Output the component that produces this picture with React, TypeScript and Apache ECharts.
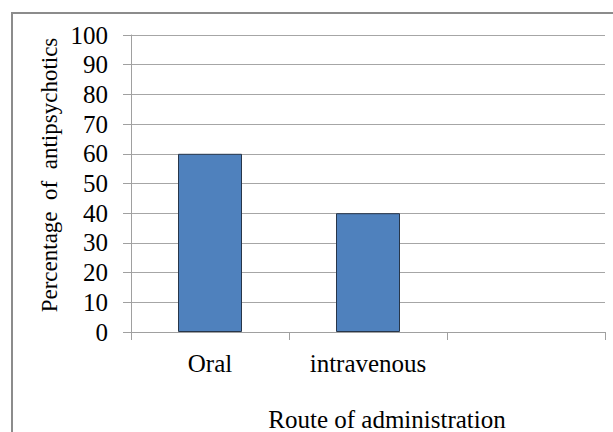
import React, { useEffect, useRef } from "react";
import * as echarts from "echarts";

const categories = ["Oral", "intravenous", ""];
const values: (number | null)[] = [60, 40, null];
const yTicks = { min: 0, max: 100, interval: 10 };
const yTitle = "Percentage  of  antipsychotics";
const xTitle = "Route of administration";

export default function App() {
  const ref = useRef<HTMLDivElement>(null);
  useEffect(() => {
    if (!ref.current) return;
    const chart = echarts.init(ref.current, undefined, { renderer: "svg" });
    const font = "'Liberation Serif', 'Times New Roman', serif";
    chart.setOption({
      animation: false,
      backgroundColor: "#ffffff",
      grid: { left: 131, right: 8, top: 35, bottom: 100, containLabel: false },
      xAxis: {
        type: "category",
        data: categories,
        boundaryGap: true,
        axisLine: { show: true, lineStyle: { color: "#a0a0a0", width: 1 } },
        axisTick: { show: true, length: 8, alignWithLabel: false, lineStyle: { color: "#a0a0a0" } },
        axisLabel: { color: "#000", fontFamily: font, fontSize: 25, margin: 19, interval: 0 },
        splitLine: { show: false },
      },
      yAxis: {
        type: "value",
        min: yTicks.min,
        max: yTicks.max,
        interval: yTicks.interval,
        axisLine: { show: true, lineStyle: { color: "#a0a0a0", width: 1 } },
        axisTick: { show: true, length: 8, lineStyle: { color: "#a0a0a0" } },
        axisLabel: { color: "#000", fontFamily: font, fontSize: 25, margin: 23 },
        splitLine: { show: true, lineStyle: { color: "#a6a6a6", width: 1 } },
      },
      series: [
        {
          type: "bar",
          data: values,
          barWidth: 64,
          itemStyle: { color: "#4f81bd", borderColor: "#27364a", borderWidth: 1 },
        },
      ],
      graphic: [
        {
          type: "rect",
          shape: { x: 12, y: 13, width: 800, height: 600 },
          style: { fill: "none", stroke: "#8c8c8c", lineWidth: 2 },
          silent: true,
        },
        {
          type: "text",
          x: 387,
          y: 419,
          style: {
            text: xTitle,
            fontFamily: font,
            fontSize: 25,
            fill: "#000",
            textAlign: "center",
            textVerticalAlign: "middle",
          },
        },
        {
          type: "text",
          x: 49,
          y: 175,
          rotation: Math.PI / 2,
          style: {
            text: yTitle,
            fontFamily: font,
            fontSize: 23,
            fill: "#000",
            textAlign: "center",
            textVerticalAlign: "middle",
          },
        },
      ],
    });
    return () => chart.dispose();
  }, []);
  return (
    <div
      ref={ref}
      style={{ position: "fixed", left: 0, top: 0, width: 613, height: 432 }}
    />
  );
}
